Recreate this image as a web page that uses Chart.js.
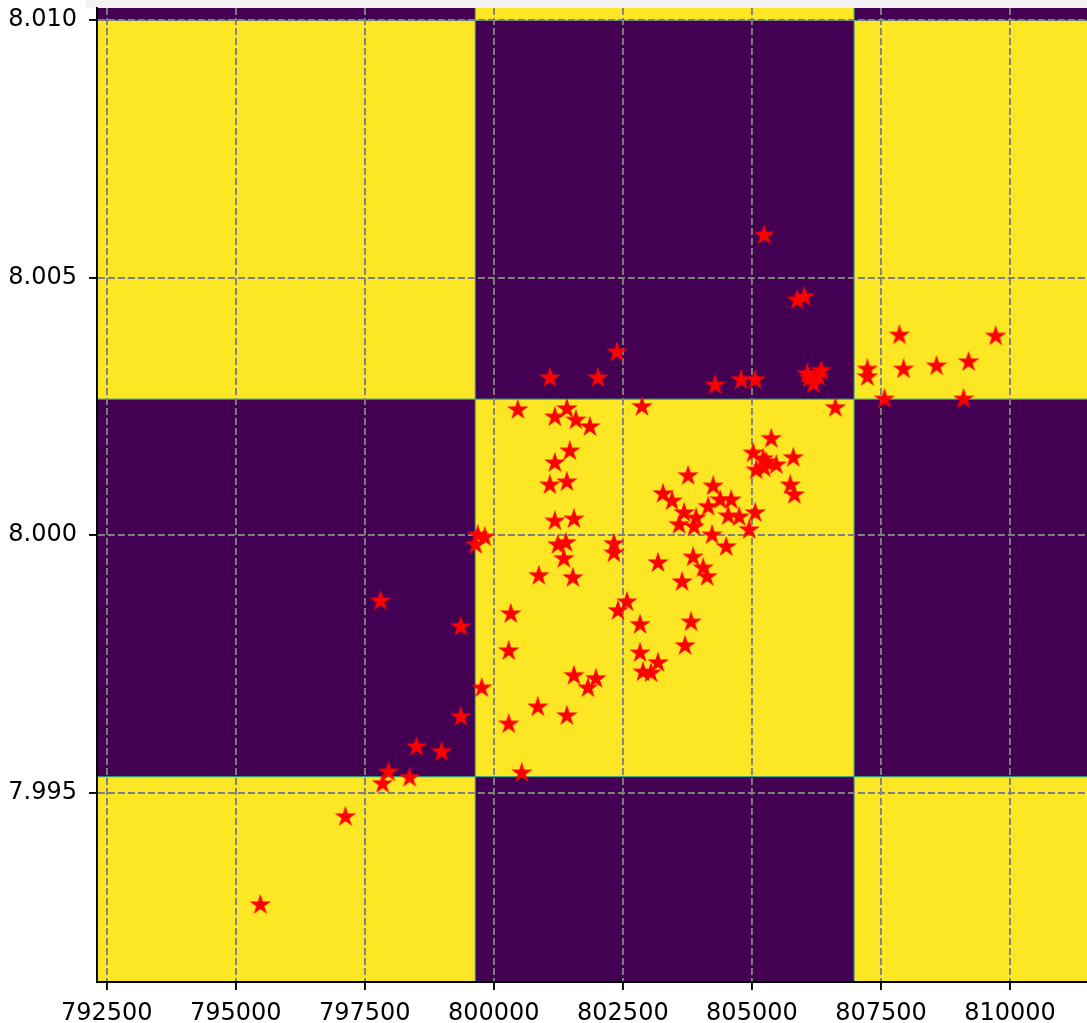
<!DOCTYPE html>
<html>
<head>
<meta charset="utf-8">
<script src="https://cdn.jsdelivr.net/npm/chart.js@4.4.1/dist/chart.umd.min.js"></script>
<style>
  html, body { margin: 0; padding: 0; background: #ffffff; }
  #wrap { position: relative; width: 1087px; height: 1023px; overflow: hidden; }
  #strip { position: absolute; left: 86px; top: 0; width: 1001px; height: 8px; background: #f2f2f2; }
  #c { position: absolute; left: 0; top: 0; }
</style>
</head>
<body>
<div id="wrap">
  <div id="strip"></div>
  <canvas id="c" width="1087" height="1023"></canvas>
</div>
<script>
// Station positions (easting, northing in Mm)
const xValues = [
  797805, 799358, 800328, 800289, 799765, 799358, 800289, 798503, 798989, 797960,
  798368, 797844, 800541, 797125, 795476, 800464, 801182, 801415, 801590, 801861,
  802871, 801473, 801182, 801085, 801415, 801182, 801551, 799688, 799823, 799649,
  801240, 801396, 801357, 802327, 802327, 800872, 801531, 803181, 803278, 802580,
  802405, 802832, 802832, 803181, 802890, 803045, 801551, 801978, 801823, 800852,
  801415, 803647, 805375, 805025, 805219, 805802, 805472, 805083, 805239, 805278,
  803764, 805743, 805822, 804249, 803453, 804385, 804598, 804152, 803686, 803919,
  804540, 804754, 805064, 803589, 803880, 804948, 804229, 804501, 803861, 804055,
  804132, 803822, 803705, 805239, 805879, 806015, 802385, 801085, 802017, 804288,
  804792, 805064, 806073, 806345, 806287, 806190, 806112, 806617, 807859, 809722,
  807238, 807238, 807937, 808577, 809198, 807568, 809101
];
const yValues = [
  7.99872, 7.99822, 7.99847, 7.99775, 7.99703, 7.99647, 7.99633, 7.99589, 7.99579, 7.99540,
  7.99529, 7.99517, 7.99538, 7.99453, 7.99282, 8.00243, 8.00229, 8.00245, 8.00223, 8.00210,
  8.00249, 8.00163, 8.00140, 8.00097, 8.00103, 8.00027, 8.00031, 8.00000, 7.99996, 7.99981,
  7.99981, 7.99985, 7.99954, 7.99983, 7.99965, 7.99921, 7.99917, 7.99946, 8.00080, 7.99870,
  7.99853, 7.99826, 7.99771, 7.99752, 7.99734, 7.99732, 7.99727, 7.99721, 7.99703, 7.99666,
  7.99649, 7.99909, 8.00187, 8.00159, 8.00148, 8.00150, 8.00136, 8.00126, 8.00130, 8.00142,
  8.00115, 8.00097, 8.00078, 8.00095, 8.00066, 8.00068, 8.00068, 8.00055, 8.00043, 8.00033,
  8.00037, 8.00035, 8.00043, 8.00020, 8.00016, 8.00010, 8.00000, 7.99977, 7.99957, 7.99936,
  7.99919, 7.99831, 7.99785, 8.00582, 8.00456, 8.00462, 8.00355, 8.00305, 8.00305, 8.00291,
  8.00301, 8.00301, 8.00313, 8.00319, 8.00307, 8.00293, 8.00305, 8.00247, 8.00388, 8.00386,
  8.00322, 8.00307, 8.00322, 8.00328, 8.00336, 8.00264, 8.00264
];

// Axis ticks
const xTicks = [792500, 795000, 797500, 800000, 802500, 805000, 807500, 810000];
const yTicks = [7.995, 8.000, 8.005, 8.010];

// Raster grid: cell edges and class value per cell (row 0 = lowest)
const colEdges = [792312, 799640, 806980, 814320];
const rowEdges = [7.98797, 7.99531, 8.00264, 8.00999, 8.01734];
const cellRows = [
  [1, 0, 1],
  [0, 1, 0],
  [1, 0, 1],
  [0, 1, 0]
];
const palette = ['#440154', '#fde725'];

const xMin = 792312, xMax = 811492;
const yMin = 7.991325, yMax = 8.010233;

// filled five-point star marker
function makeStar(size, outer, color) {
  const cv = document.createElement('canvas');
  cv.width = size; cv.height = size;
  const g = cv.getContext('2d');
  const cx = size / 2, cy = size / 2, inner = outer * 0.381966;
  g.beginPath();
  for (let i = 0; i < 10; i++) {
    const r = i % 2 === 0 ? outer : inner;
    const a = -Math.PI / 2 + i * Math.PI / 5;
    const px = cx + r * Math.cos(a), py = cy + r * Math.sin(a);
    if (i === 0) g.moveTo(px, py); else g.lineTo(px, py);
  }
  g.closePath();
  g.fillStyle = color;
  g.fill();
  g.lineJoin = 'miter';
  g.lineWidth = 2;
  g.strokeStyle = color;
  g.stroke();
  return cv;
}
const starMarker = makeStar(22, 8, '#ff0000');

// raster cells painted beneath the grid lines
const rasterPlugin = {
  id: 'raster',
  beforeDraw(chart) {
    const { ctx, chartArea: a, scales: { x, y } } = chart;
    ctx.save();
    ctx.beginPath();
    ctx.rect(a.left, a.top, a.right - a.left, a.bottom - a.top);
    ctx.clip();
    for (let r = 0; r < cellRows.length; r++) {
      for (let c = 0; c < cellRows[r].length; c++) {
        const x0 = x.getPixelForValue(colEdges[c]);
        const x1 = x.getPixelForValue(colEdges[c + 1]);
        const y0 = y.getPixelForValue(rowEdges[r]);
        const y1 = y.getPixelForValue(rowEdges[r + 1]);
        ctx.fillStyle = palette[cellRows[r][c]];
        ctx.fillRect(x0, y1, x1 - x0, y0 - y1);
      }
    }
    // soft seams between neighbouring cells
    ctx.strokeStyle = 'rgba(45,160,120,0.85)';
    ctx.lineWidth = 1.2;
    ctx.beginPath();
    colEdges.slice(1, -1).forEach(v => {
      const p = x.getPixelForValue(v);
      ctx.moveTo(p, a.top); ctx.lineTo(p, a.bottom);
    });
    rowEdges.slice(1, -1).forEach(v => {
      const p = y.getPixelForValue(v);
      ctx.moveTo(a.left, p); ctx.lineTo(a.right, p);
    });
    ctx.stroke();
    ctx.restore();
  }
};

const tickFont = { family: 'DejaVu Sans', size: 24 };
const gridOpts = {
  color: '#808080',
  lineWidth: 1.9,
  tickLength: 8,
  tickColor: '#000000',
  tickWidth: 1.9,
  tickBorderDash: []
};
const borderOpts = { display: true, color: '#000000', width: 1.9, dash: [7, 3] };

new Chart(document.getElementById('c'), {
  type: 'scatter',
  data: {
    datasets: [{
      data: xValues.map((v, i) => ({ x: v, y: yValues[i] })),
      pointStyle: starMarker,
      pointRadius: 8,
      pointHoverRadius: 8,
      backgroundColor: '#ff0000',
      borderColor: '#ff0000'
    }]
  },
  options: {
    responsive: false,
    animation: false,
    events: [],
    layout: { autoPadding: false, padding: { top: 8, left: 0, right: 0, bottom: 0 } },
    plugins: { legend: { display: false }, tooltip: { enabled: false } },
    scales: {
      x: {
        type: 'linear',
        min: xMin,
        max: xMax,
        afterBuildTicks: s => { s.ticks = xTicks.map(v => ({ value: v })); },
        afterFit: s => { s.height = 41; s.paddingLeft = 0; s.paddingRight = 0; },
        ticks: {
          callback: v => String(v),
          color: '#000000',
          font: tickFont,
          padding: 9,
          maxRotation: 0,
          autoSkip: false
        },
        grid: gridOpts,
        border: borderOpts
      },
      y: {
        type: 'linear',
        min: yMin,
        max: yMax,
        afterBuildTicks: s => { s.ticks = yTicks.map(v => ({ value: v })); },
        afterFit: s => { s.width = 97; s.paddingTop = 0; s.paddingBottom = 0; },
        ticks: {
          callback: v => v.toFixed(3),
          color: '#000000',
          font: tickFont,
          padding: 12,
          autoSkip: false
        },
        grid: gridOpts,
        border: borderOpts
      }
    }
  },
  plugins: [rasterPlugin]
});
</script>
</body>
</html>
